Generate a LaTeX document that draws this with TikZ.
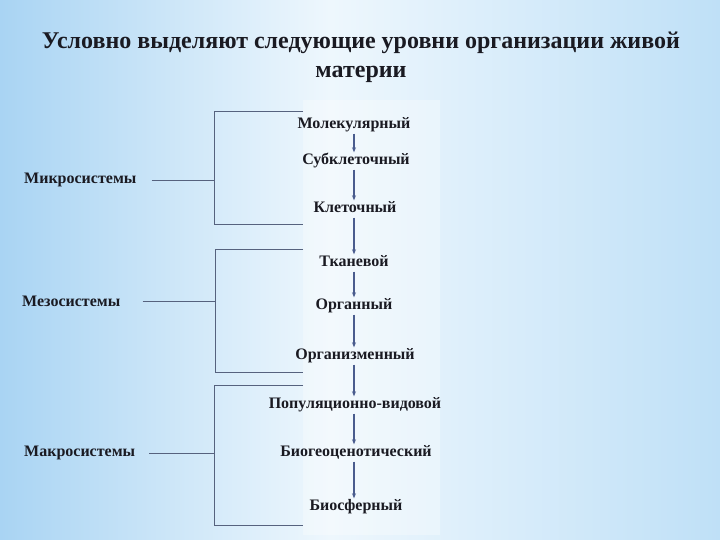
\documentclass[tikz,border=0pt]{standalone}
\usepackage{fontspec}
\setmainfont{Liberation Serif}
\usepackage{tikz}
\usetikzlibrary{arrows.meta, positioning, calc}
\definecolor{bgblue}{HTML}{A9D4F3}
\definecolor{bgpale}{HTML}{EEF7FD}
\definecolor{bgright}{HTML}{BFE0F7}
\definecolor{linegray}{HTML}{56627E}
\definecolor{arrowblue}{HTML}{4A5C8E}
\definecolor{inkdark}{HTML}{1A1A22}
\tikzset{
  title_style/.style={font=\fontsize{24}{29}\selectfont\bfseries, text=inkdark, align=center},
  level/.style={font=\fontsize{16}{18}\selectfont\bfseries, text=inkdark, inner sep=0pt, text height=10pt, text depth=3pt, minimum height=17pt},
  system/.style={font=\fontsize{16}{18}\selectfont\bfseries, text=inkdark, inner sep=0pt, anchor=west},
  bracket/.style={-, linegray, line width=0.9pt},
  arrow/.style={-{Stealth[length=5pt, width=4pt]}, arrowblue, line width=1.3pt}
}

\begin{document}
\begin{tikzpicture}[x=1pt, y=-1pt]

  % Background
  \useasboundingbox (0,0) rectangle (720,540);
  \shade[left color=bgblue, right color=bgpale] (0,0) rectangle (330,540);
  \shade[left color=bgpale, right color=bgright] (330,0) rectangle (720,540);
  \fill[white, opacity=0.3] (303,100) rectangle (440,535);

  % Title
  \node[title_style] (title) at (361,57) {Условно выделяют следующие уровни организации живой\\материи};

  % Levels of organisation
  \node[level] (mol) at (354,125) {Молекулярный};
  \node[level] (subcell) at (356,161) {Субклеточный};
  \node[level] (cell) at (355,209) {Клеточный};
  \node[level] (tissue) at (354,263) {Тканевой};
  \node[level] (organ) at (354,306) {Органный};
  \node[level] (organism) at (355,356) {Организменный};
  \node[level] (popul) at (355,405) {Популяционно-видовой};
  \node[level] (biogeo) at (356,453) {Биогеоценотический};
  \node[level] (biosph) at (356,507) {Биосферный};

  % Systems
  \node[system] (micro) at (24,180) {Микросистемы};
  \node[system] (meso) at (22,301) {Мезосистемы};
  \node[system] (macro) at (24,453) {Макросистемы};

  % Bracket corners
  \coordinate (microtop) at (214,111);
  \coordinate (microbot) at (214,224);
  \coordinate (mesotop) at (215,249);
  \coordinate (mesobot) at (215,372);
  \coordinate (macrotop) at (214,385);
  \coordinate (macrobot) at (214,525);
  \coordinate (lineend) at (303,0);

  % Brackets
  \draw[bracket] (microtop -| lineend) -- (microtop) -- (microbot) -- (microbot -| lineend);
  \draw[bracket] ([xshift=15]micro.east) -- (micro.east -| microtop);
  \draw[bracket] (mesotop -| lineend) -- (mesotop) -- (mesobot) -- (mesobot -| lineend);
  \draw[bracket] ([xshift=22]meso.east) -- (meso.east -| mesotop);
  \draw[bracket] (macrotop -| lineend) -- (macrotop) -- (macrobot) -- (macrobot -| lineend);
  \draw[bracket] ([xshift=14]macro.east) -- (macro.east -| macrotop);

  % Flow between the levels
  \foreach \a/\b in {mol/subcell, subcell/cell, cell/tissue, tissue/organ, organ/organism, organism/popul, popul/biogeo, biogeo/biosph}
    \draw[arrow] (\a.south -| mol) -- (\b.north -| mol);

\end{tikzpicture}
\end{document}
